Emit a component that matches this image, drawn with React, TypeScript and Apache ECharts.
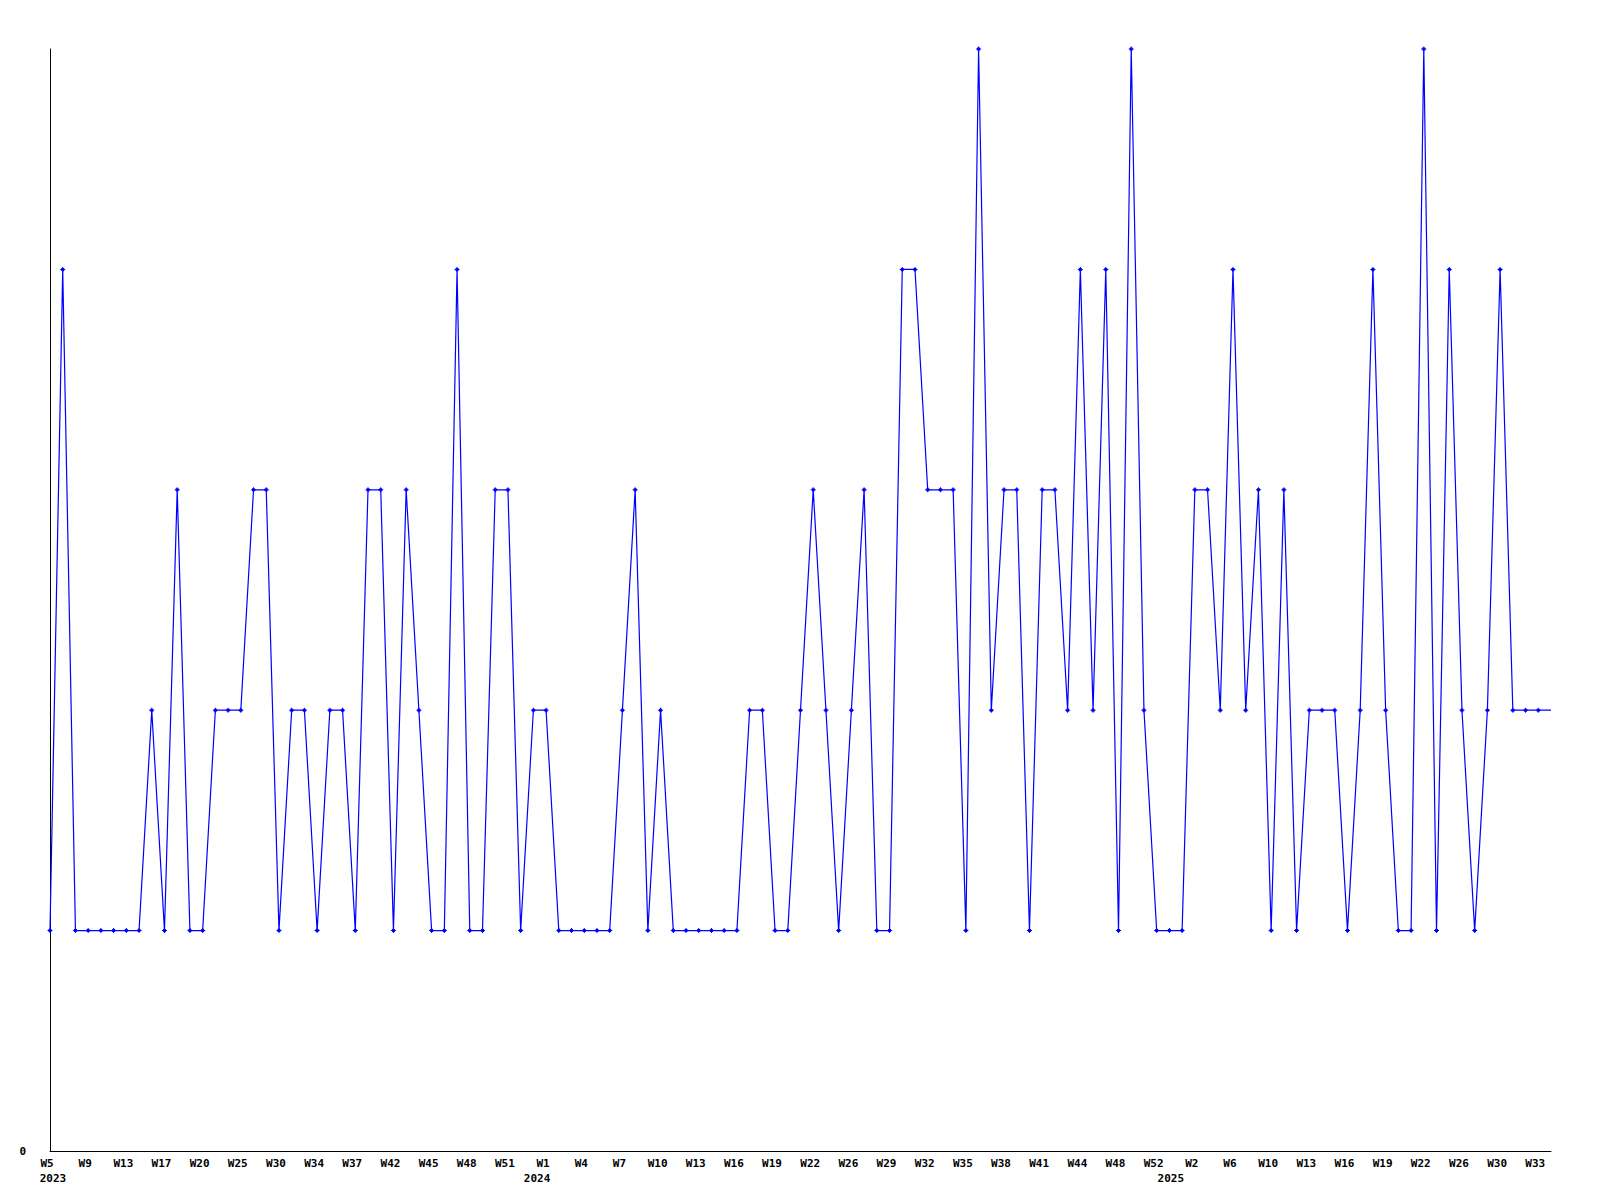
import React, { useEffect, useRef } from "react";
import * as echarts from "echarts";

// One value per plotted point (119 points, left to right)
const values: number[] = [
  1, 4, 1, 1, 1, 1, 1, 1, 2, 1, 3, 1, 1, 2, 2, 2, 3, 3, 1, 2,
  2, 1, 2, 2, 1, 3, 3, 1, 3, 2, 1, 1, 4, 1, 1, 3, 3, 1, 2, 2,
  1, 1, 1, 1, 1, 2, 3, 1, 2, 1, 1, 1, 1, 1, 1, 2, 2, 1, 1, 2,
  3, 2, 1, 2, 3, 1, 1, 4, 4, 3, 3, 3, 1, 5, 2, 3, 3, 1, 3, 3,
  2, 4, 2, 4, 1, 5, 2, 1, 1, 1, 3, 3, 2, 4, 2, 3, 1, 3, 1, 2,
  2, 2, 1, 2, 4, 2, 1, 1, 5, 1, 4, 2, 1, 2, 4, 2, 2, 2, 2,
];

// Tick labels, one for every third point
const tickLabels: string[] = [
  "W5", "W9", "W13", "W17", "W20", "W25", "W30", "W34", "W37", "W42",
  "W45", "W48", "W51", "W1", "W4", "W7", "W10", "W13", "W16", "W19",
  "W22", "W26", "W29", "W32", "W35", "W38", "W41", "W44", "W48", "W52",
  "W2", "W6", "W10", "W13", "W16", "W19", "W22", "W26", "W30", "W33",
];

// Year shown under a tick label (tick index -> year)
const yearTicks: number[] = [0, 13, 30];
const yearNames: string[] = ["2023", "2024", "2025"];

const STEP = 3;

export default function App() {
  const ref = useRef<HTMLDivElement>(null);

  useEffect(() => {
    if (!ref.current) return;
    const chart = echarts.init(ref.current, undefined, { renderer: "svg" });

    const categories = values.map((_, i) =>
      i % STEP === 0 ? tickLabels[i / STEP] : ""
    );
    const lastIndex = values.length - 1;
    const data = values.map((v, i) =>
      i === lastIndex ? { value: v, symbol: "none" } : v
    );

    const font = "DejaVu Sans Mono";
    const baseText = {
      fontFamily: font,
      fontWeight: "bold" as const,
      fontSize: 11,
      color: "#000",
      lineHeight: 15,
    };

    chart.setOption({
      animation: false,
      backgroundColor: "#ffffff",
      grid: { left: 50, right: 49, top: 49, bottom: 49, containLabel: false },
      xAxis: {
        type: "category",
        data: categories,
        boundaryGap: false,
        axisLine: { show: true, lineStyle: { color: "#000", width: 1 } },
        axisTick: { show: false },
        splitLine: { show: false },
        axisLabel: {
          interval: STEP - 1,
          margin: 5,
          ...baseText,
          formatter: (_v: string, idx: number) => {
            if (idx % STEP !== 0) return "";
            const t = idx / STEP;
            const label = tickLabels[t];
            const yi = yearTicks.indexOf(t);
            if (yi >= 0) {
              return `{w|${label}}\n{y${yi}|${yearNames[yi]}}`;
            }
            return `{w|${label}}`;
          },
          rich: {
            w: { ...baseText, padding: [0, 6, 0, 0] },
            y0: { ...baseText, padding: [0, 0, 0, 6] },
            y1: { ...baseText, padding: [0, 18, 0, 0] },
            y2: { ...baseText, padding: [0, 48, 0, 0] },
          },
        },
      },
      yAxis: {
        type: "value",
        min: 0,
        max: 5,
        interval: 5,
        axisLine: { show: true, lineStyle: { color: "#000", width: 1 } },
        axisTick: { show: false },
        splitLine: { show: false },
        axisLabel: {
          margin: 24,
          ...baseText,
          lineHeight: 12,
          formatter: (v: number) => (v === 0 ? "0" : ""),
        },
      },
      series: [
        {
          type: "line",
          data,
          symbol:
            "path://M2 0h1v1h1v1h1v1h-1v1h-1v1h-1v-1h-1v-1h-1v-1h1v-1h1z",
          symbolSize: 5,
          showSymbol: true,
          showAllSymbol: true,
          lineStyle: { color: "#0000ff", width: 1.2 },
          itemStyle: { color: "#0000ff" },
        },
      ],
    });

    return () => chart.dispose();
  }, []);

  return (
    <div
      ref={ref}
      style={{ position: "absolute", left: 0, top: 0, width: 1600, height: 1200 }}
    />
  );
}
